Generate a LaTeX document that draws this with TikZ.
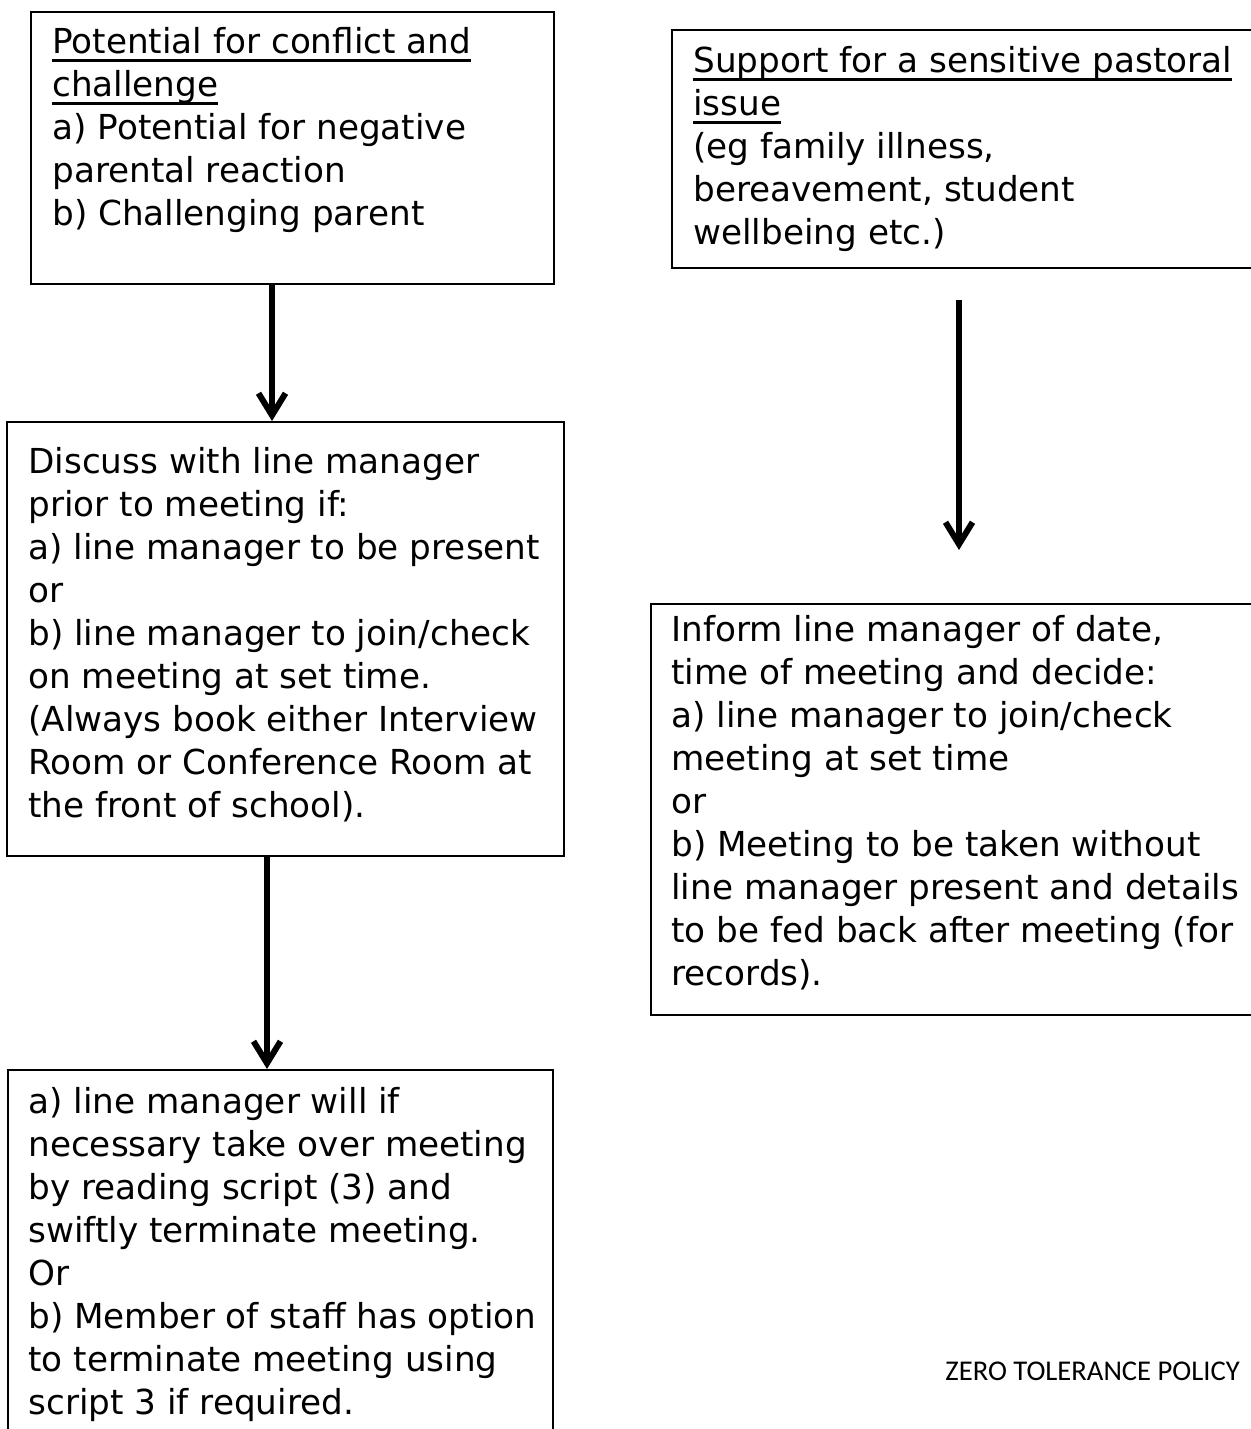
\documentclass[tikz,border=0pt]{standalone}
\usepackage{fontspec}
\setmainfont{DejaVu Sans}[FakeStretch=0.995]
\newfontfamily\notefont{Carlito}
\usetikzlibrary{arrows.meta}
\newcommand\boxtext[1]{\begin{tabular}[t]{@{}l@{}}#1\end{tabular}}
\newcommand\ulined[1]{\setbox0\hbox{#1}\rlap{\rule[-4.25pt]{\wd0}{1.5pt}}\box0}
\tikzset{
  panel/.style={draw, line width=1pt, inner sep=0pt, anchor=north west},
  words/.style={anchor=base west, inner sep=0pt, font=\fontsize{17.2}{21.5}\selectfont},
  flow/.style={line width=3pt, -{Straight Barb[length=11pt,width=13.5pt]}}
}
\begin{document}
\begin{tikzpicture}[x=0.5pt,y=-0.5pt]
\useasboundingbox (0,0) rectangle (1251,1429);
% boxes
\node[panel, minimum width=261.5pt, minimum height=136pt] (b1) at (30,11) {};
\node[panel, minimum width=278.5pt, minimum height=217pt] (b2) at (6,421) {};
\node[panel, minimum width=272.5pt, minimum height=230pt] (b3) at (7,1069) {};
\node[panel, minimum width=320pt, minimum height=119pt] (b4) at (671,29) {};
\node[panel, minimum width=330pt, minimum height=205.5pt] (b5) at (650,603) {};
% texts
\node[words] (t1) at (52,54) {\boxtext{\ulined{Potential for conflict and}\\
\ulined{challenge}\\
a) Potential for negative\\
parental reaction\\
b) Challenging parent}};
\node[words] (t4) at (693,73) {\boxtext{\ulined{Support for a sensitive pastoral}\\
\ulined{issue}\\
(eg family illness,\\
bereavement, student\\
wellbeing etc.)}};
\node[words] (t2) at (28,473) {\boxtext{Discuss with line manager\\
prior to meeting if:\\
a) line manager to be present\\
or\\
b) line manager to join/check\\
on meeting at set time.\\
(Always book either Interview\\
Room or Conference Room at\\
the front of school).}};
\node[words] (t5) at (671,641) {\boxtext{Inform line manager of date,\\
time of meeting and decide:\\
a) line manager to join/check\\
meeting at set time\\
or\\
b) Meeting to be taken without\\
line manager present and details\\
to be fed back after meeting (for\\
records).}};
\node[words] (t3) at (28,1113) {\boxtext{a) line manager will if\\
necessary take over meeting\\
by reading script (3) and\\
swiftly terminate meeting.\\
Or\\
b) Member of staff has option\\
to terminate meeting using\\
script 3 if required.}};
\node[anchor=base west, inner sep=0pt, font=\notefont\fontsize{14.3}{17}\selectfont] (zt) at (945,1380) {ZERO TOLERANCE POLICY};
% arrows
\coordinate (c1) at (272,0);
\coordinate (c2) at (267,0);
\coordinate (c3) at (959,0);
\draw[flow] (b1.south -| c1) -- (b2.north -| c1);
\draw[flow] (b2.south -| c2) -- (b3.north -| c2);
\draw[flow, shorten <=15.5pt, shorten >=26.5pt] (b4.south -| c3) -- (b5.north -| c3);
\end{tikzpicture}
\end{document}
